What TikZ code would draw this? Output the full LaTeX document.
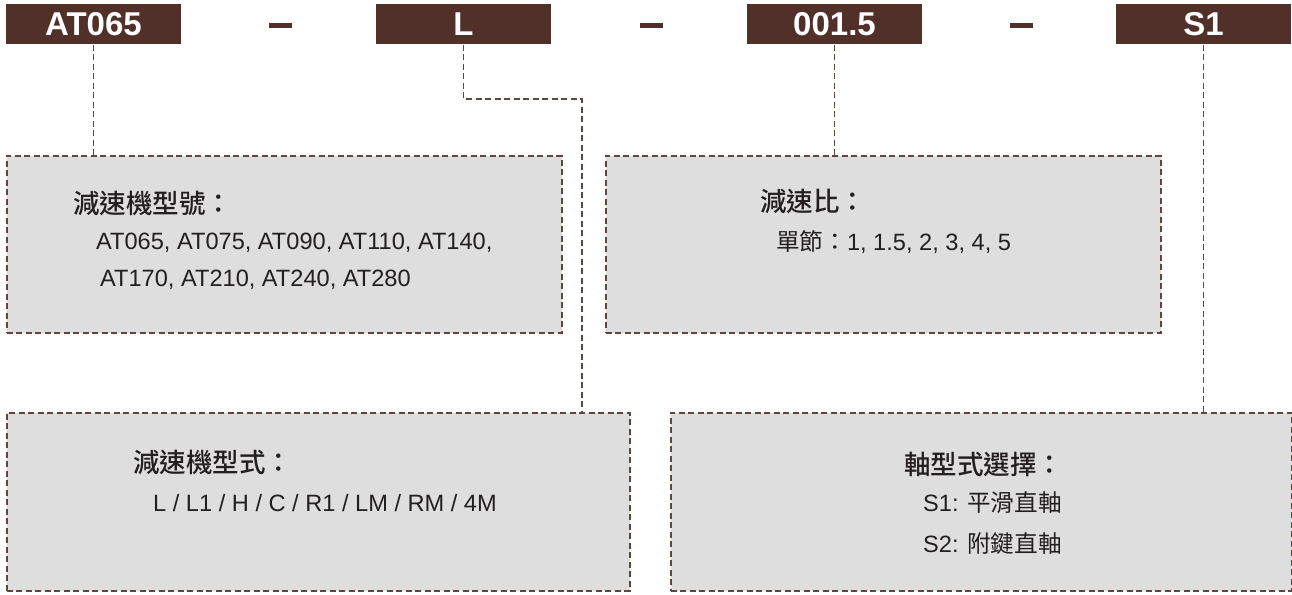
\documentclass[tikz,border=0pt]{standalone}
\usepackage{fontspec}
\setmainfont{Liberation Sans}
\newfontfamily\cjk{Noto Sans CJK TC}
\newfontfamily\cjkmed{Noto Sans CJK TC Medium}
\definecolor{hdrbrown}{RGB}{80,48,40}
\definecolor{linebrown}{RGB}{96,70,64}
\definecolor{boxgray}{RGB}{222,222,222}
\definecolor{txtgray}{RGB}{35,31,32}
\tikzset{
  hdr/.style={fill=hdrbrown, text=white, font=\fontsize{33}{33}\selectfont\bfseries,
    minimum width=175pt, minimum height=40pt, inner sep=0pt},
  sepbar/.style={fill=hdrbrown, minimum width=23pt, minimum height=5pt, inner sep=0pt},
  infobox/.style={draw=linebrown, fill=boxgray, line width=1.6pt,
    dash pattern=on 6pt off 3.5pt, anchor=north west, inner sep=0pt},
  conn/.style={draw=linebrown, line width=1.6pt, dash pattern=on 6pt off 3.5pt},
  ttl/.style={anchor=west, inner sep=0pt, text=txtgray,
    font=\fontsize{26.5}{26.5}\selectfont\cjkmed},
  body/.style={anchor=west, inner sep=0pt, text=txtgray, font=\fontsize{23.6}{23.6}\selectfont},
}
\begin{document}
\begin{tikzpicture}[x=1pt,y=-1pt]
\useasboundingbox (0,0) rectangle (1292,594);
\node[hdr] (at065) at (93.5,24.5) {AT065};
\node[hdr] (lbox) at (463.5,24.5) {L};
\node[hdr] (ratio) at (834.5,24.5) {001.5};
\node[hdr] (s1) at (1203.5,24.5) {S1};
\node[sepbar] (sep1) at (280.5,25.5) {};
\node[sepbar] (sep2) at (651.5,25.5) {};
\node[sepbar] (sep3) at (1021.5,25.5) {};
\node[infobox, minimum width=555pt, minimum height=177pt] (model) at (6,155) {};
\node[infobox, minimum width=555pt, minimum height=177pt] (rbox) at (605,155) {};
\node[infobox, minimum width=623pt, minimum height=178pt] (form) at (6,412) {};
\node[infobox, minimum width=621pt, minimum height=178pt] (shaft) at (670,412) {};
\coordinate (bend) at (582,99);
\draw[conn] (at065.south) -- (at065.south |- model.north);
\draw[conn] (lbox.south) |- (bend) -- (bend |- form.north);
\draw[conn] (ratio.south) -- (ratio.south |- rbox.north);
\draw[conn] (s1.south) -- (s1.south |- shaft.north);
\node[ttl] (modelttl) at (73,203) {減速機型號：};
\node[body] (model1) at (96,243) {AT065, AT075, AT090, AT110, AT140,};
\node[body] (model2) at (100,280) {AT170, AT210, AT240, AT280};
\node[ttl] (rttl) at (760,201) {減速比：};
\node[body] (r1) at (776,242) {{\cjk 單節：}1, 1.5, 2, 3, 4, 5};
\node[ttl] (formttl) at (133,462) {減速機型式：};
\node[body] (form1) at (153,503) {L / L1 / H / C / R1 / LM / RM / 4M};
\node[ttl] (shaftttl) at (904,464) {軸型式選擇：};
\node[body] (shaft1) at (923,503) {S1: {\cjk 平滑直軸}};
\node[body] (shaft2) at (923,543) {S2: {\cjk 附鍵直軸}};
\end{tikzpicture}
\end{document}
